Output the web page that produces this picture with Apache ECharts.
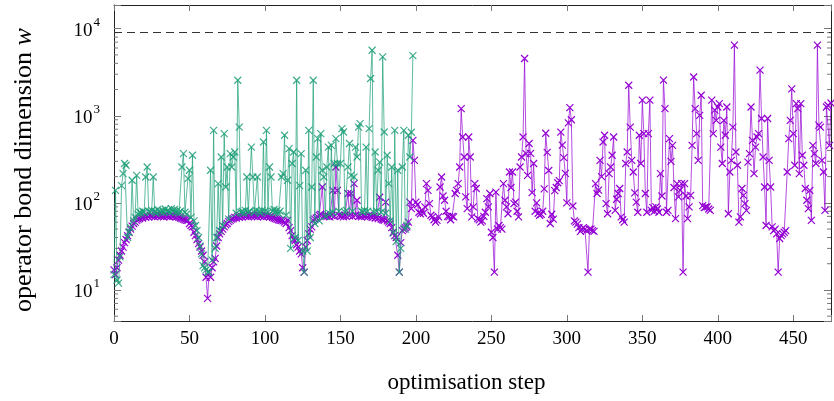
<!DOCTYPE html>
<html><head><meta charset="utf-8">
<script src="https://cdn.jsdelivr.net/npm/echarts@6/dist/echarts.min.js"></script>
<style>html,body{margin:0;padding:0;background:#fff}#c{width:834px;height:401px}</style>
</head><body><div id="c"></div>
<script>
const xTickLabels = [0, 50, 100, 150, 200, 250, 300, 350, 400, 450];
const yTickExponents = [1, 2, 3, 4];
const yMinorTicks = [5,6,7,8,9, 20,30,40,50,60,70,80,90, 200,300,400,500,600,700,800,900, 2000,3000,4000,5000,6000,7000,8000,9000];
const dashedLevel = 9000;

// green series, steps 0..198
const greenValues = [
  15, 139, 13, 12, 24, 158, 217, 283, 270, 40,
  46, 52, 182, 62, 68, 207, 74, 78, 76, 80,
  78, 198, 258, 80, 78, 82, 198, 80, 76, 84,
  80, 78, 82, 78, 85, 80, 82, 78, 86, 80,
  84, 78, 82, 76, 80, 258, 368, 78, 74, 190,
  237, 68, 352, 62, 55, 48, 40, 32, 26, 19,
  18, 17, 16, 16, 237, 22, 680, 30, 40, 166,
  48, 336, 55, 623, 152, 258, 65, 368, 258, 336,
  384, 76, 2560, 740, 78, 80, 76, 82, 198, 78,
  80, 437, 198, 78, 82, 198, 80, 76, 82, 500,
  80, 680, 78, 258, 198, 80, 84, 78, 82, 76,
  80, 198, 217, 597, 72, 182, 420, 30, 283, 384,
  40, 2560, 37, 158, 368, 28, 16, 237, 28, 680,
  40, 152, 2560, 58, 336, 547, 62, 623, 237, 198,
  70, 258, 437, 75, 457, 78, 283, 547, 283, 80,
  283, 713, 651, 78, 82, 258, 480, 207, 80, 198,
  437, 336, 740, 813, 80, 78, 82, 437, 80, 713,
  2680, 5660, 78, 384, 80, 237, 294, 78, 4740, 651,
  76, 352, 166, 62, 258, 45, 680, 36, 237, 16,
  30, 258, 680, 50, 55, 597, 336, 646, 4900
];

// purple series, steps 0..475
const purpleValues = [
  17, 15, 18, 22, 25, 28, 31, 35, 38, 42,
  46, 50, 54, 58, 60, 63, 65, 66, 68, 67,
  70, 68, 71, 69, 72, 70, 71, 69, 72, 70,
  72, 70, 71, 69, 72, 70, 71, 69, 72, 70,
  71, 69, 70, 68, 67, 66, 65, 64, 63, 63,
  58, 55, 53, 46, 42, 38, 34, 31, 28, 25,
  21, 14, 8, 16, 14, 18, 21, 23, 32, 40,
  44, 47, 50, 53, 56, 58, 61, 63, 65, 66,
  68, 67, 70, 68, 71, 69, 72, 70, 71, 69,
  72, 70, 72, 70, 71, 69, 72, 70, 71, 69,
  72, 70, 71, 69, 70, 68, 67, 66, 65, 64,
  63, 63, 62, 60, 58, 63, 52, 48, 42, 38,
  37, 33, 31, 28, 26, 18, 16, 31, 37, 44,
  50, 53, 63, 65, 67, 69, 72, 74, 152, 70,
  72, 70, 71, 69, 72, 139, 70, 258, 139, 72,
  70, 71, 69, 72, 70, 128, 71, 128, 70, 166,
  72, 107, 70, 71, 69, 72, 70, 71, 69, 72,
  70, 68, 70, 67, 69, 66, 116, 65, 64, 63,
  102, 62, 60, 58, 52, 46, 42, 40, 25, 16,
  35, 48, 50, 52, 53, 60, 102, 86, 522, 308,
  102, 95, 78, 75, 82, 76, 90, 166, 139, 98,
  72, 69, 64, 60, 63, 69, 152, 198, 120, 107,
  80, 70, 69, 64, 70, 69, 128, 139, 166, 258,
  1210, 570, 336, 117, 86, 570, 336, 69, 90, 166,
  146, 66, 64, 60, 62, 70, 78, 112, 90, 128,
  46, 40, 16, 133, 50, 55, 52, 50, 166, 107,
  90, 75, 226, 150, 226, 98, 102, 80, 69, 258,
  336, 570, 4540, 368, 207, 480, 370, 131, 283, 80,
  100, 76, 72, 74, 80, 145, 630, 380, 235, 58,
  74, 65, 138, 150, 170, 180, 650, 460, 330, 218,
  100, 830, 1240, 900, 92, 62, 60, 57, 52, 47,
  50, 52, 50, 48, 16, 50, 50, 48, 47, 166,
  128, 140, 308, 200, 500, 597, 98, 75, 217, 258,
  352, 570, 82, 110, 128, 146, 69, 64, 60, 283,
  384, 2240, 740, 308, 226, 130, 102, 78, 597, 283,
  1510, 623, 128, 78, 623, 1510, 82, 88, 80, 90,
  85, 78, 217, 120, 2570, 1210, 78, 82, 547, 300,
  457, 150, 66, 166, 117, 140, 166, 16, 166, 120,
  66, 90, 122, 457, 2790, 1210, 623, 308, 1010, 1720,
  93, 88, 90, 90, 85, 82, 1510, 623, 1160, 887,
  1260, 1380, 437, 283, 887, 597, 1260, 75, 226, 308,
  740, 6470, 384, 270, 60, 69, 146, 122, 98, 82,
  294, 368, 1260, 522, 217, 437, 570, 623, 3340, 930,
  336, 152, 55, 930, 308, 152, 53, 48, 50, 44,
  16, 39, 42, 44, 46, 48, 226, 547, 887, 2040,
  623, 270, 1380, 1210, 217, 1380, 352, 270, 146, 107,
  86, 139, 63, 457, 368, 283, 6470, 780, 740, 308,
  226, 82, 1260, 1320, 457, 1400
];

const GREEN = '#1b9e77';
const PURPLE = '#9400d3';
const FONT = '"Liberation Serif", "Times New Roman", serif';
const CROSS = 'path://M0,0L10,10M10,0L0,10';

const xMin = 0, xMax = 475, yMin = 4.4, yMax = 18700;

function yLabel(v) {
  const l = Math.log10(v), e = Math.round(l);
  if (Math.abs(l - e) < 1e-6 && yTickExponents.indexOf(e) >= 0) return '{b|10}{s|' + e + '}';
  return '';
}

const chart = echarts.init(document.getElementById('c'), null, {renderer: 'canvas'});
const axisLine = {show: true, onZero: false, lineStyle: {color: '#222', width: 1}};
const tickStyle = {color: '#777', width: 1};

chart.setOption({
  animation: false,
  backgroundColor: '#fff',
  grid: {left: 114, right: 1, top: 5, bottom: 80, containLabel: false},
  xAxis: [{
    type: 'value', min: xMin, max: xMax, interval: 50, position: 'bottom',
    axisLine: axisLine,
    axisTick: {inside: true, length: 6, lineStyle: tickStyle},
    splitLine: {show: false},
    axisLabel: {margin: 9, color: '#000', fontFamily: FONT, fontSize: 19,
      formatter: v => xTickLabels.indexOf(v) >= 0 ? String(v) : ''},
    name: 'optimisation step', nameLocation: 'middle', nameGap: 50,
    nameTextStyle: {color: '#000', fontFamily: FONT, fontSize: 23, padding: [0, 12, 0, 0]}
  }, {
    type: 'value', min: xMin, max: xMax, interval: 50, position: 'top',
    axisLine: axisLine,
    axisTick: {inside: true, length: 6, lineStyle: tickStyle},
    splitLine: {show: false}, axisLabel: {show: false}
  }],
  yAxis: [{
    type: 'log', logBase: 10, min: yMin, max: yMax, position: 'left',
    axisLine: axisLine,
    axisTick: {inside: true, length: 7, lineStyle: tickStyle},
    splitLine: {show: false}, minorTick: {show: false},
    axisLabel: {margin: 14, color: '#000', formatter: yLabel, padding: [8, 0, 0, 0],
      rich: {
        b: {fontFamily: FONT, fontSize: 19, color: '#000', verticalAlign: 'bottom', lineHeight: 19, padding: [0, 0, 2, 0]},
        s: {fontFamily: FONT, fontSize: 13, color: '#000', verticalAlign: 'bottom', lineHeight: 13, padding: [0, 0, 13, 1]}
      }},
    name: 'operator bond dimension {i|w}', nameLocation: 'middle', nameGap: 77, nameRotate: 90,
    nameTextStyle: {color: '#000', fontFamily: FONT, fontSize: 26, padding: [0, 14, 0, 0],
      rich: {i: {fontFamily: FONT, fontSize: 26, fontStyle: 'italic', color: '#000'}}}
  }, {
    type: 'log', logBase: 10, min: yMin, max: yMax, position: 'right',
    axisLine: axisLine,
    axisTick: {inside: true, length: 7, lineStyle: tickStyle},
    splitLine: {show: false}, axisLabel: {show: false}
  }],
  series: [{
    type: 'custom', silent: true, xAxisIndex: 0, yAxisIndex: 0, clip: false, z: 1,
    data: yMinorTicks.map(v => [0, v]),
    renderItem: (params, api) => {
      const y = api.coord([0, api.value(1)])[1];
      const cs = params.coordSys;
      return {type: 'group', children: [
        {type: 'line', shape: {x1: cs.x, y1: y, x2: cs.x + 4, y2: y}, style: {stroke: '#777', lineWidth: 1}},
        {type: 'line', shape: {x1: cs.x + cs.width - 4, y1: y, x2: cs.x + cs.width, y2: y}, style: {stroke: '#777', lineWidth: 1}}
      ]};
    }
  }, {
    type: 'line', name: 'purple', xAxisIndex: 0, yAxisIndex: 0, z: 3,
    data: purpleValues.map((v, i) => [i, v]),
    symbol: CROSS, symbolSize: 7, showSymbol: true,
    lineStyle: {color: PURPLE, width: 1, opacity: 0.7},
    itemStyle: {color: 'rgba(0,0,0,0)', borderColor: PURPLE, borderWidth: 1.2},
    markLine: {silent: true, symbol: ['none', 'none'], label: {show: false},
      lineStyle: {color: '#333', type: [8, 5], width: 1},
      data: [{yAxis: dashedLevel}]}
  }, {
    type: 'line', name: 'green', xAxisIndex: 0, yAxisIndex: 0, z: 4,
    data: greenValues.map((v, i) => [i, v]),
    symbol: CROSS, symbolSize: 7, showSymbol: true,
    lineStyle: {color: GREEN, width: 1, opacity: 0.7},
    itemStyle: {color: 'rgba(0,0,0,0)', borderColor: GREEN, borderWidth: 1.2, opacity: 0.85}
  }]
});
</script>
</body></html>
